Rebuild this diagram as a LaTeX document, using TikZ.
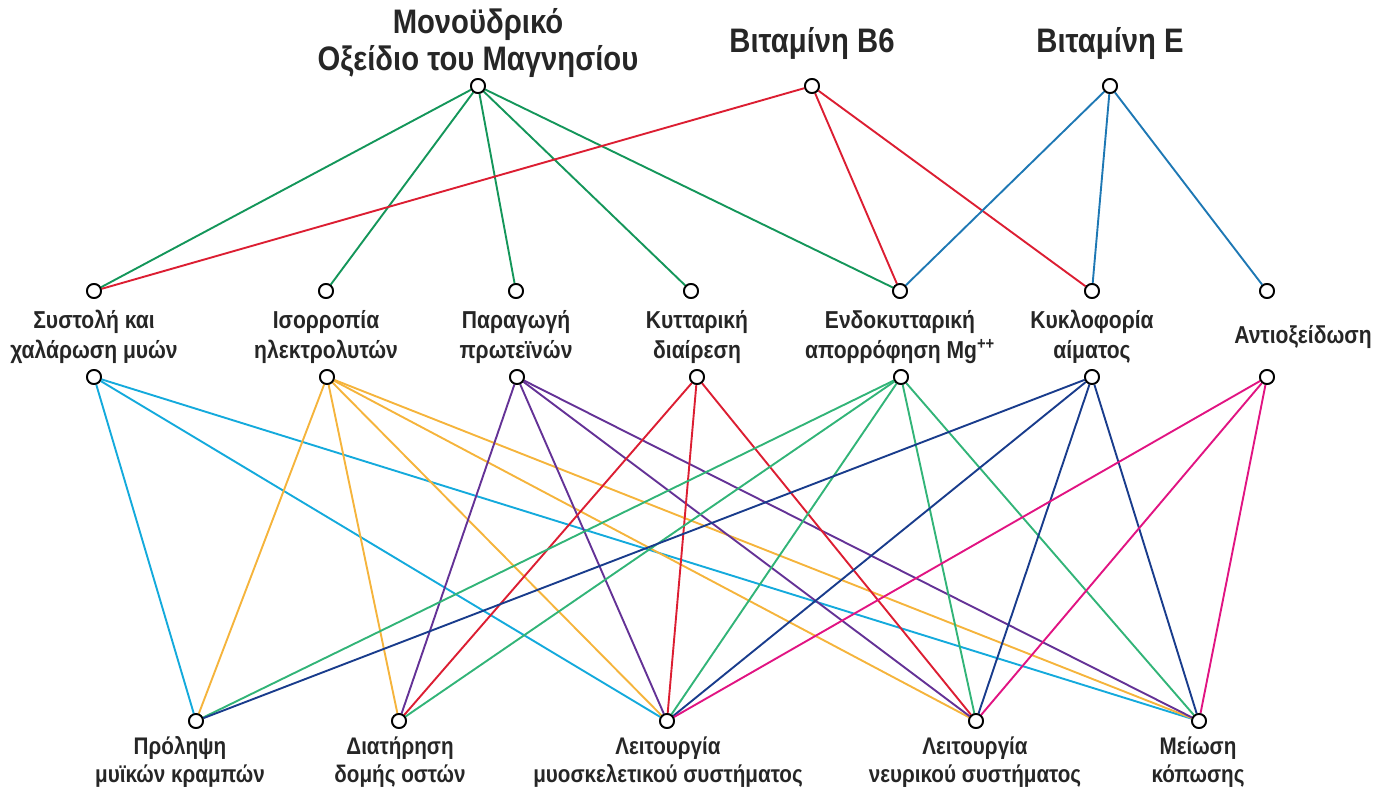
\documentclass[tikz,border=0pt]{standalone}
\usepackage{fontspec}
\setmainfont[FakeStretch=0.86]{Liberation Sans}
\definecolor{cMg}{RGB}{20,150,90}
\definecolor{cRed}{RGB}{220,30,50}
\definecolor{cBlueE}{RGB}{30,120,180}
\definecolor{cCyan}{RGB}{20,170,220}
\definecolor{cOrange}{RGB}{245,180,60}
\definecolor{cPurple}{RGB}{100,50,150}
\definecolor{cGreen}{RGB}{50,180,120}
\definecolor{cNavy}{RGB}{25,60,140}
\definecolor{cMagenta}{RGB}{225,20,130}
\tikzset{
  dot/.style={circle,draw=black,fill=white,line width=1.8pt,minimum size=14pt,inner sep=0pt},
  toplab/.style={font=\bfseries\fontsize{34}{37}\selectfont,align=center,text=black!85},
  midlab/.style={font=\bfseries\fontsize{24.5}{30}\selectfont,align=center,text=black!85},
  botlab/.style={font=\bfseries\fontsize{24}{28}\selectfont,align=center,text=black!85},
  edge/.style={line width=1.9pt}
}
\begin{document}
\begin{tikzpicture}[x=1pt,y=-1pt]
\useasboundingbox (0,0) rectangle (1390,789);
% top nodes
\node[dot] (mg) at (478,86) {};
\node[dot] (b6) at (812,86) {};
\node[dot] (ve) at (1110,86) {};
% upper mid
\node[dot] (u1) at (94,291) {};
\node[dot] (u2) at (326,291) {};
\node[dot] (u3) at (516,291) {};
\node[dot] (u4) at (691,291) {};
\node[dot] (u5) at (900,291) {};
\node[dot] (u6) at (1092,291) {};
\node[dot] (u7) at (1267,291) {};
% lower mid
\node[dot] (l1) at (94,377) {};
\node[dot] (l2) at (327,377) {};
\node[dot] (l3) at (517,377) {};
\node[dot] (l4) at (697,377) {};
\node[dot] (l5) at (901,377) {};
\node[dot] (l6) at (1092,377) {};
\node[dot] (l7) at (1267,377) {};
% bottom
\node[dot] (b1) at (196,721) {};
\node[dot] (b2) at (399,721) {};
\node[dot] (b3) at (667,721) {};
\node[dot] (b4) at (976,721) {};
\node[dot] (b5) at (1199,721) {};
% edges top
\foreach \t in {u1,u2,u3,u4,u5} \draw[edge,cMg] (mg) -- (\t);
\foreach \t in {u1,u5,u6} \draw[edge,cRed] (b6) -- (\t);
\foreach \t in {u5,u6,u7} \draw[edge,cBlueE] (ve) -- (\t);
% edges bottom
\foreach \t in {b1,b3,b5} \draw[edge,cCyan] (l1) -- (\t);
\foreach \t in {b1,b2,b3,b4,b5} \draw[edge,cOrange] (l2) -- (\t);
\foreach \t in {b2,b3,b4,b5} \draw[edge,cPurple] (l3) -- (\t);
\foreach \t in {b2,b3,b4} \draw[edge,cRed] (l4) -- (\t);
\foreach \t in {b1,b2,b3,b4,b5} \draw[edge,cGreen] (l5) -- (\t);
\foreach \t in {b1,b3,b4,b5} \draw[edge,cNavy] (l6) -- (\t);
\foreach \t in {b3,b4,b5} \draw[edge,cMagenta] (l7) -- (\t);
% redraw dots on top
\foreach \n in {mg,b6,ve,u1,u2,u3,u4,u5,u6,u7,l1,l2,l3,l4,l5,l6,l7,b1,b2,b3,b4,b5}
  \draw[black,fill=white,line width=1.8pt] (\n) circle (7pt);
% labels
\node[toplab] (tmg) at (478,43) {Μονοϋδρικό\\Οξείδιο του Μαγνησίου};
\node[toplab] (tb6) at (812,44) {Βιταμίνη B6};
\node[toplab] (tve) at (1110,44) {Βιταμίνη E};
\node[midlab] (m1) at (94,337) {Συστολή και\\χαλάρωση μυών};
\node[midlab] (m2) at (326,337) {Ισορροπία\\ηλεκτρολυτών};
\node[midlab] (m3) at (516,337) {Παραγωγή\\πρωτεϊνών};
\node[midlab] (m4) at (697,337) {Κυτταρική\\διαίρεση};
\node[midlab] (m5) at (900,337) {Ενδοκυτταρική\\απορρόφηση Mg\textsuperscript{++}};
\node[midlab] (m6) at (1092,337) {Κυκλοφορία\\αίματος};
\node[midlab] (m7) at (1303,337) {Αντιοξείδωση};
\node[botlab] (n1) at (180,762) {Πρόληψη\\μυϊκών κραμπών};
\node[botlab] (n2) at (400,762) {Διατήρηση\\δομής οστών};
\node[botlab] (n3) at (668,762) {Λειτουργία\\μυοσκελετικού συστήματος};
\node[botlab] (n4) at (975,762) {Λειτουργία\\νευρικού συστήματος};
\node[botlab] (n5) at (1198,762) {Μείωση\\κόπωσης};
\end{tikzpicture}
\end{document}
